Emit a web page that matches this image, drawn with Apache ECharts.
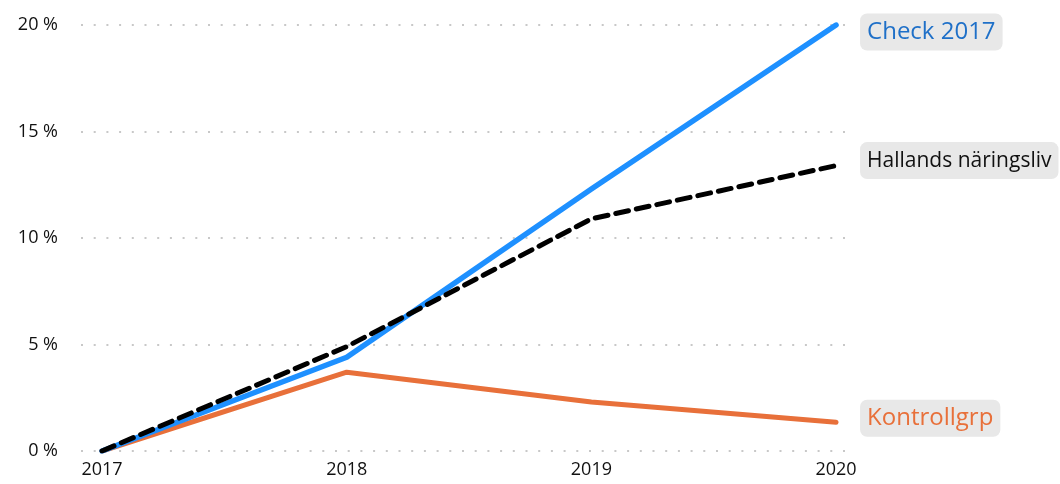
<!DOCTYPE html>
<html>
<head>
<meta charset="utf-8">
<script src="https://cdn.jsdelivr.net/npm/echarts@6/dist/echarts.min.js"></script>
<style>
  html, body { margin: 0; padding: 0; background: #fff; }
  #chart { width: 1060px; height: 484px; }
</style>
</head>
<body>
<div id="chart"></div>
<script>
// data
var years = [2017, 2018, 2019, 2020]
var check2017 = [0, 4.4, 12.3, 20.0]
var hallands = [0, 4.9, 10.9, 13.4]
var kontroll = [0, 3.7, 2.3, 1.35]

function pairs(vals) {
  return years.map(function (y, i) { return [y, vals[i]] })
}

var font = '"Open Sans", "Noto Sans", sans-serif'

function endLbl(color, size, dy) {
  return {
    show: true,
    formatter: '{a}',
    color: color,
    fontFamily: font,
    fontSize: size,
    backgroundColor: '#e8e8e8',
    borderRadius: 7,
    padding: [5, 7, 5, 7],
    lineHeight: 27,
    distance: 24,
    offset: [0, dy]
  }
}

var myChart = echarts.init(document.getElementById('chart'))
myChart.setOption({
  animation: false,
  grid: { left: 81, right: 210, top: 25, bottom: 33 },
  xAxis: {
    type: 'value',
    min: 2016.914,
    max: 2020.057,
    axisLine: { show: false },
    axisTick: { show: false },
    splitLine: { show: false },
    axisLabel: {
      customValues: years,
      formatter: function (v) { return String(v) },
      color: '#111',
      fontFamily: font,
      fontSize: 18,
      margin: 10
    }
  },
  yAxis: {
    type: 'value',
    min: 0,
    max: 20,
    interval: 5,
    axisLine: { show: false },
    axisTick: { show: false },
    axisLabel: {
      formatter: '{value} %',
      color: '#111',
      fontFamily: font,
      fontSize: 18,
      margin: 23
    },
    splitLine: {
      lineStyle: { color: '#c8c8c8', width: 2, type: [2, 10.7] }
    }
  },
  series: [
    {
      name: 'Kontrollgrp',
      type: 'line',
      data: pairs(kontroll),
      symbol: 'none',
      lineStyle: { color: '#e8703a', width: 5, cap: 'round', join: 'round' },
      endLabel: endLbl('#e8703a', 24, -4)
    },
    {
      name: 'Check 2017',
      type: 'line',
      data: pairs(check2017),
      symbol: 'none',
      lineStyle: { color: '#1e90ff', width: 5.5, cap: 'round', join: 'round' },
      endLabel: endLbl('#1f70c8', 24, 7)
    },
    {
      name: 'Hallands näringsliv',
      type: 'line',
      data: pairs(hallands),
      symbol: 'none',
      lineStyle: { color: '#000', width: 5, type: [13, 8], cap: 'round', join: 'round' },
      endLabel: endLbl('#111', 21, -5)
    }
  ]
})
</script>
</body>
</html>
